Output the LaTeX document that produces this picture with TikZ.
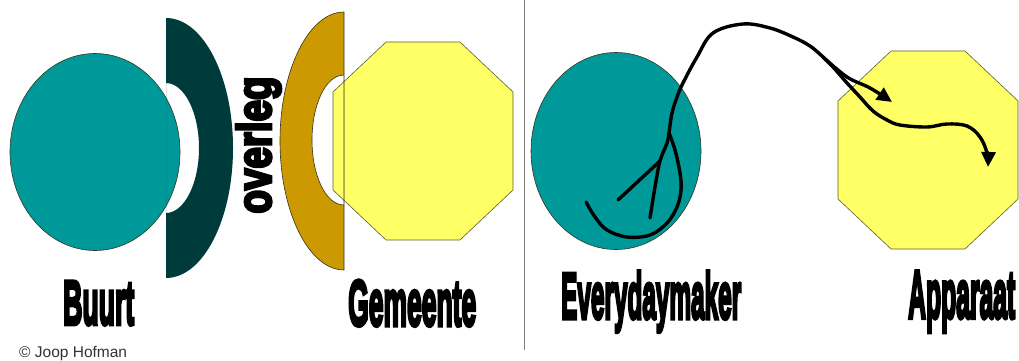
\documentclass[tikz,border=0pt]{standalone}
\usepackage{fontspec}
\usepackage{graphicx}
\setmainfont{Liberation Sans}
\newfontfamily\heavy{Liberation Sans}[FakeBold=6]
\usetikzlibrary{arrows.meta,shapes.geometric}
\definecolor{tealc}{HTML}{009999}
\definecolor{darkc}{HTML}{003B3B}
\definecolor{goldc}{HTML}{CC9900}
\definecolor{yelc}{HTML}{FFFF66}
\definecolor{edgec}{HTML}{333322}
\tikzset{
  blob/.style={ellipse, draw=edgec, line width=0.6pt, fill=tealc, minimum width=170pt, minimum height=197pt, inner sep=0pt},
  octa/.style={draw=edgec!80!yelc, line width=0.6pt, fill=yelc},
  bigtxt/.style={inner sep=0pt, anchor=north west},
  flow/.style={line width=3.4pt, line cap=round, line join=round},
  flowarrow/.style={flow, -{Triangle[length=15pt,width=14pt]}}
}
\begin{document}
\begin{tikzpicture}[x=1pt,y=-1pt]
\useasboundingbox (0,0) rectangle (1019,361);
\fill[white] (0,0) rectangle (1019,361);

% divider
\coordinate (divtop) at (524,0);
\coordinate (divbot) at (524,350);
\draw[gray, line width=1pt] (divtop) -- (divbot);

% ---------- left half ----------
\node[blob] (buurtblob) at (95,152) {};
\draw[octa] (386,42) -- (460,42) -- (513,92) -- (513,190) -- (460,240) -- (386,240) -- (333,190) -- (333,92) -- cycle;

% dark crescent
\fill[darkc, even odd rule]
  (166,18) .. controls (203,18) and (233,76) .. (233,148)
           .. controls (233,220) and (203,278) .. (166,278) -- cycle
  (166,83) .. controls (184,83) and (199,112) .. (199,148)
           .. controls (199,184) and (184,213) .. (166,213) -- cycle;

% gold crescent
\filldraw[fill=goldc, draw=edgec, line width=0.6pt, even odd rule]
  (344,12) .. controls (309,12) and (280,70) .. (280,141)
           .. controls (280,212) and (309,270) .. (344,270) -- cycle
  (344,75) .. controls (326,75) and (312,104) .. (312,140)
           .. controls (312,176) and (326,205) .. (344,205) -- cycle;

\node[inner sep=0pt, rotate=90] (overleg) at (258.5,145) {\resizebox*{137pt}{45pt}{\heavy\bfseries overleg}};

\node[bigtxt] (buurt) at (63,281) {\resizebox*{71pt}{44pt}{\heavy\bfseries Buurt}};
\node[bigtxt] (gemeente) at (348,280) {\resizebox*{128pt}{46pt}{\heavy\bfseries Gemeente}};

\node[inner sep=0pt, anchor=base west, text=black!80] (copy) at (19,357) {\fontsize{15.5}{17}\selectfont © Joop Hofman};

% ---------- right half ----------
\node[blob] (edmblob) at (616,151) {};
\draw[octa] (891,51) -- (965,51) -- (1018,101) -- (1018,199) -- (965,249) -- (891,249) -- (838,199) -- (838,101) -- cycle;

\node[bigtxt] (everyday) at (561,271) {\resizebox*{180pt}{61pt}{\heavy\bfseries Everydaymaker}};
\node[bigtxt] (apparaat) at (908,271) {\resizebox*{107pt}{61pt}{\heavy\bfseries Apparaat}};

% flow lines
\coordinate (join) at (669,133);
\coordinate (split) at (823,57);
\coordinate (fork) at (660,161);
\coordinate (tipA) at (892,102);
\coordinate (tipB) at (988,167);

\draw[flow] plot[smooth, tension=0.6] coordinates {(586,202) (595,217) (607,230) (627,237) (650,235) (667,223) (677,207) (681,190) (680,173) (675,150) (join)};
\draw[flow] plot[smooth, tension=0.6] coordinates {(650,218) (655,187) (fork) (667,143) (join)};
\draw[flow] (618,200) -- (fork);
\draw[flow] plot[smooth, tension=0.6] coordinates {(join) (672,113) (677,97) (683,83) (697,57) (713,33) (743,24) (770,28) (793,37) (810,46) (split)};
\draw[flowarrow] plot[smooth, tension=0.6] coordinates {(split) (847,77) (870,88) (tipA)};
\draw[flowarrow] plot[smooth, tension=0.6] coordinates {(split) (833,67) (847,83) (860,97) (873,111) (887,120) (900,125) (927,127) (947,124) (967,126) (980,137) (987,153) (tipB)};
\end{tikzpicture}
\end{document}
